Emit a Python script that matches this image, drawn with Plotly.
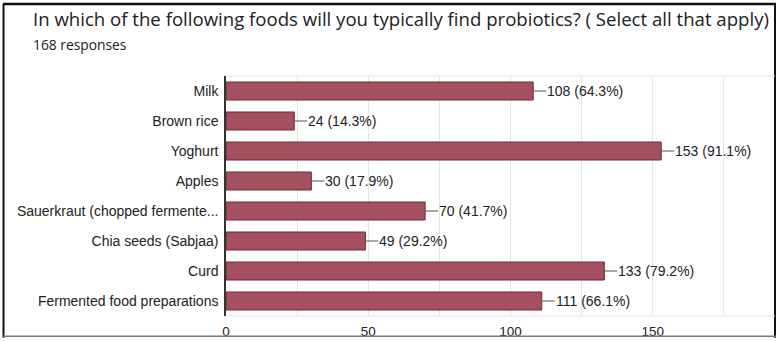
import plotly.graph_objects as go

# Survey question: which foods typically contain probiotics (multi-select, 168 responses)
categories = [
    "Milk",
    "Brown rice",
    "Yoghurt",
    "Apples",
    "Sauerkraut (chopped fermente...",
    "Chia seeds (Sabjaa)",
    "Curd",
    "Fermented food preparations",
]
counts = [108, 24, 153, 30, 70, 49, 133, 111]
percents = [64.3, 14.3, 91.1, 17.9, 41.7, 29.2, 79.2, 66.1]
x_tick_values = [0, 50, 100, 150]
x_tick_labels = ["0", "50", "100", "150"]

W, H = 777, 341
ML, MR, MT, MB = 226, 2, 76, 22
PW, PH = W - ML - MR, H - MT - MB

LABEL_FONT = dict(family="Liberation Sans, Arial", size=14, color="#222222")


def px_x(p):
    return (p - ML) / PW


def px_y(p):
    return 1 - (p - MT) / PH


fig = go.Figure()
fig.add_trace(go.Bar(
    y=categories,
    x=counts,
    orientation="h",
    width=0.6,
    marker=dict(color="#a4505e", line=dict(color="#6b2b39", width=1)),
    hoverinfo="skip",
))

# value labels with a short leader line
for cat, n, pct in zip(categories, counts, percents):
    fig.add_annotation(
        x=n, y=cat, xref="x", yref="y",
        text=f"{n} ({pct:.1f}%)",
        showarrow=True, arrowhead=0, arrowwidth=1, arrowcolor="#555555",
        ax=13, ay=0, xanchor="left", standoff=0, startstandoff=0,
        font=LABEL_FONT,
        borderpad=0,
    )

fig.add_annotation(
    x=px_x(31), y=px_y(18), xref="paper", yref="paper",
    text="In which of the following foods will you typically find probiotics? ( Select all that apply)",
    showarrow=False, xanchor="left", yanchor="middle",
    font=dict(family="Open Sans, Roboto, Arial", size=18.6, color="#202124"),
)
fig.add_annotation(
    x=px_x(31), y=px_y(44), xref="paper", yref="paper",
    text="168 responses",
    showarrow=False, xanchor="left", yanchor="middle",
    font=dict(family="Open Sans, Roboto, Arial", size=13.8, color="#202124"),
)

shapes = [
    # outer frame
    dict(type="line", xref="paper", yref="paper", x0=px_x(3), x1=px_x(776), y0=px_y(3), y1=px_y(3),
         line=dict(color="#111111", width=2.5)),
    dict(type="line", xref="paper", yref="paper", x0=px_x(3.5), x1=px_x(3.5), y0=px_y(3), y1=px_y(341),
         line=dict(color="#111111", width=2)),
    dict(type="line", xref="paper", yref="paper", x0=px_x(775), x1=px_x(775), y0=px_y(3), y1=px_y(341),
         line=dict(color="#111111", width=2)),
    dict(type="line", xref="paper", yref="paper", x0=px_x(3), x1=px_x(776), y0=px_y(339.5), y1=px_y(339.5),
         line=dict(color="#777777", width=1.5)),
    # plot top / bottom rules
    dict(type="line", xref="paper", yref="paper", x0=0, x1=1, y0=1, y1=1,
         line=dict(color="#e3e3e3", width=1)),
    dict(type="line", xref="paper", yref="paper", x0=0, x1=1, y0=0, y1=0,
         line=dict(color="#e3e3e3", width=1)),
]

fig.update_layout(
    width=W, height=H,
    margin=dict(l=ML, r=MR, t=MT, b=MB),
    paper_bgcolor="white", plot_bgcolor="white",
    showlegend=False,
    shapes=shapes,
    xaxis=dict(
        range=[0, 193],
        tickvals=x_tick_values, ticktext=x_tick_labels,
        showgrid=True, gridcolor="#e6e6e6", gridwidth=1,
        minor=dict(dtick=25, tick0=0, showgrid=True, gridcolor="#e6e6e6", gridwidth=1),
        zeroline=False, showline=False,
        ticks="", ticklabelstandoff=5,
        tickfont=dict(family="Liberation Sans, Arial", size=13.5, color="#222222"),
    ),
    yaxis=dict(
        autorange="reversed",
        showgrid=False, zeroline=False,
        showline=True, linecolor="#333333", linewidth=1.5,
        ticks="", ticklabelstandoff=3,
        tickfont=LABEL_FONT,
    ),
)

fig.write_html("out.html")
